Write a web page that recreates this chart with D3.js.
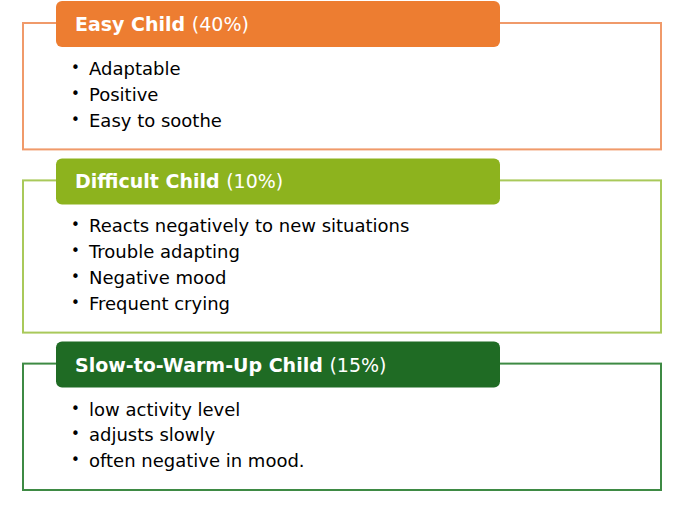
<!DOCTYPE html>
<html><head><meta charset="utf-8">
<script src="https://cdn.jsdelivr.net/npm/d3@7"></script>
<style>body{margin:0;background:#fff}</style></head>
<body><svg id="c" width="680" height="518"></svg>
<script>
const titles = ["Easy Child", "Difficult Child", "Slow-to-Warm-Up Child"];
const percents = ["(40%)", "(10%)", "(15%)"];
const bullets = [
  ["Adaptable", "Positive", "Easy to soothe"],
  ["Reacts negatively to new situations", "Trouble adapting", "Negative mood", "Frequent crying"],
  ["low activity level", "adjusts slowly", "often negative in mood."]
];
const fillColors = ["#ED7D31", "#8DB31E", "#1F6B24"];
const lineColors = ["#F09A6A", "#A9C95A", "#3E8A44"];

const svg = d3.select("#c");
const lineH = 25.8, headH = 46, gap = 10;
// cumulative tops
let tops = [], t = 1;
bullets.forEach((b) => { tops.push(t); t += 22 + 22 + b.length * lineH + 25 + gap + 1; });
const x = d3.scaleLinear().domain([0, 1]).range([23, 661]);

titles.forEach((title, i) => {
  const top = tops[i];
  const n = bullets[i].length;
  const boxTop = top + 22, boxBottom = top + 22 + 24 + n * lineH + 25;
  const g = svg.append("g");
  g.append("rect").attr("x", x(0)).attr("y", boxTop).attr("width", x(1) - x(0))
    .attr("height", boxBottom - boxTop).attr("fill", "#fff")
    .attr("stroke", lineColors[i]).attr("stroke-width", 2);
  g.append("rect").attr("x", 56).attr("y", top).attr("width", 444).attr("height", headH)
    .attr("rx", 6).attr("fill", fillColors[i]);
  const tx = g.append("text").attr("x", 75).attr("y", top + 30)
    .attr("font-family", "DejaVu Sans").attr("font-size", 19).attr("fill", "#fff");
  tx.append("tspan").attr("font-weight", "bold").text(title + " ");
  tx.append("tspan").text(percents[i]);
  const y = d3.scaleLinear().domain([0, 1]).range([top + 74, top + 74 + lineH]);
  bullets[i].forEach((b, j) => {
    g.append("text").attr("x", 71).attr("y", y(j) - 2).attr("font-family", "DejaVu Sans")
      .attr("font-size", 15).attr("fill", "#000").text("•");
    g.append("text").attr("x", 89).attr("y", y(j)).attr("font-family", "DejaVu Sans")
      .attr("font-size", 18).attr("fill", "#000").text(b);
  });
});
</script></body></html>
